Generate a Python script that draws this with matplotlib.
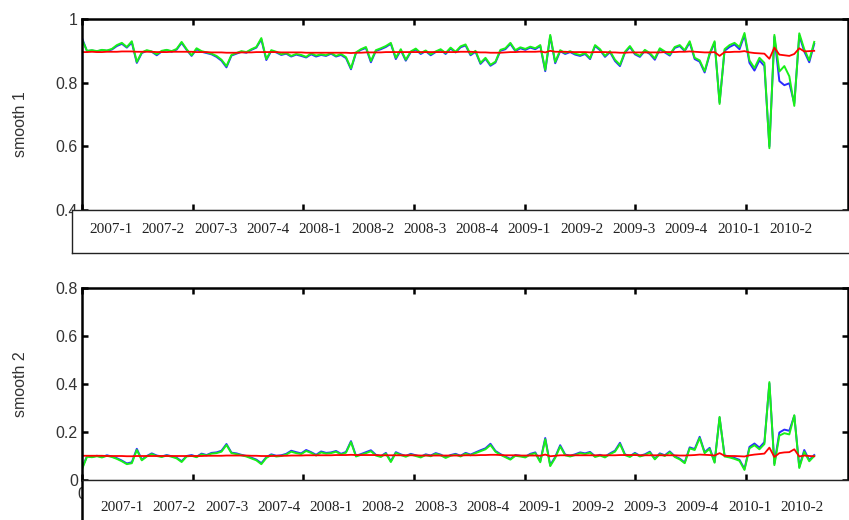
import numpy as np
import matplotlib
matplotlib.use("Agg")
import matplotlib.pyplot as plt
from matplotlib.transforms import blended_transform_factory

plt.rcParams["font.family"] = "Liberation Sans"

# quarter labels under each panel
quarters = ["2007-1", "2007-2", "2007-3", "2007-4", "2008-1", "2008-2", "2008-3",
            "2008-4", "2009-1", "2009-2", "2009-3", "2009-4", "2010-1", "2010-2"]

# smooth 1 (top panel)
green1 = [
    0.935, 0.900, 0.902, 0.899, 0.903, 0.901, 0.906, 0.918, 0.925, 0.912, 0.930, 0.865, 0.895, 0.902, 0.898, 0.889, 0.900, 0.903, 0.899, 0.906,
    0.928, 0.905, 0.886, 0.908, 0.899, 0.895, 0.891, 0.884, 0.872, 0.852, 0.887, 0.893, 0.899, 0.896, 0.905, 0.912, 0.940, 0.874, 0.902, 0.897,
    0.889, 0.893, 0.884, 0.890, 0.887, 0.881, 0.892, 0.885, 0.889, 0.886, 0.893, 0.884, 0.890, 0.880, 0.845, 0.895, 0.905, 0.912, 0.868, 0.902,
    0.908, 0.915, 0.925, 0.878, 0.905, 0.872, 0.898, 0.907, 0.893, 0.901, 0.889, 0.898, 0.905, 0.893, 0.910, 0.897, 0.914, 0.920, 0.889, 0.900,
    0.862, 0.878, 0.856, 0.866, 0.903, 0.908, 0.925, 0.902, 0.911, 0.906, 0.913, 0.908, 0.918, 0.840, 0.950, 0.865, 0.902, 0.893, 0.899, 0.891,
    0.887, 0.893, 0.877, 0.918, 0.905, 0.884, 0.899, 0.872, 0.856, 0.897, 0.915, 0.892, 0.884, 0.903, 0.893, 0.876, 0.908, 0.898, 0.888, 0.912,
    0.918, 0.902, 0.930, 0.878, 0.870, 0.836, 0.892, 0.930, 0.733, 0.905, 0.918, 0.925, 0.912, 0.956, 0.870, 0.846, 0.878, 0.862, 0.594, 0.950,
    0.835, 0.852, 0.820, 0.727, 0.955, 0.905, 0.870, 0.928]
blue1 = [
    0.940, 0.899, 0.901, 0.898, 0.902, 0.900, 0.904, 0.915, 0.922, 0.910, 0.926, 0.862, 0.893, 0.900, 0.897, 0.886, 0.898, 0.902, 0.897, 0.904,
    0.925, 0.903, 0.884, 0.905, 0.897, 0.893, 0.889, 0.881, 0.869, 0.848, 0.885, 0.891, 0.897, 0.894, 0.903, 0.910, 0.936, 0.871, 0.900, 0.895,
    0.887, 0.891, 0.882, 0.888, 0.884, 0.879, 0.889, 0.882, 0.887, 0.884, 0.891, 0.882, 0.887, 0.877, 0.842, 0.893, 0.903, 0.909, 0.864, 0.900,
    0.905, 0.912, 0.922, 0.874, 0.902, 0.869, 0.896, 0.904, 0.890, 0.899, 0.886, 0.896, 0.903, 0.890, 0.907, 0.895, 0.911, 0.917, 0.886, 0.897,
    0.859, 0.875, 0.853, 0.863, 0.900, 0.905, 0.922, 0.899, 0.908, 0.903, 0.910, 0.905, 0.915, 0.836, 0.946, 0.861, 0.899, 0.890, 0.896, 0.888,
    0.884, 0.890, 0.874, 0.915, 0.902, 0.881, 0.896, 0.868, 0.852, 0.894, 0.912, 0.889, 0.881, 0.900, 0.890, 0.872, 0.905, 0.895, 0.885, 0.909,
    0.915, 0.899, 0.926, 0.874, 0.866, 0.832, 0.888, 0.926, 0.738, 0.900, 0.912, 0.920, 0.905, 0.950, 0.862, 0.838, 0.870, 0.852, 0.600, 0.944,
    0.805, 0.792, 0.798, 0.735, 0.948, 0.898, 0.864, 0.922]
red1 = [
    0.896, 0.896, 0.897, 0.896, 0.896, 0.897, 0.897, 0.897, 0.898, 0.898, 0.898, 0.897, 0.897, 0.897, 0.897, 0.896, 0.896, 0.896, 0.897, 0.897,
    0.897, 0.897, 0.897, 0.896, 0.896, 0.896, 0.895, 0.895, 0.895, 0.894, 0.894, 0.894, 0.895, 0.895, 0.895, 0.896, 0.896, 0.896, 0.896, 0.896,
    0.895, 0.895, 0.895, 0.895, 0.895, 0.894, 0.894, 0.894, 0.894, 0.894, 0.894, 0.894, 0.894, 0.894, 0.893, 0.894, 0.894, 0.895, 0.895, 0.895,
    0.895, 0.896, 0.896, 0.896, 0.896, 0.896, 0.896, 0.896, 0.896, 0.896, 0.896, 0.896, 0.896, 0.896, 0.896, 0.896, 0.897, 0.897, 0.897, 0.896,
    0.895, 0.895, 0.894, 0.894, 0.894, 0.895, 0.896, 0.896, 0.897, 0.897, 0.897, 0.897, 0.898, 0.895, 0.900, 0.897, 0.897, 0.897, 0.896, 0.896,
    0.896, 0.896, 0.895, 0.896, 0.896, 0.896, 0.895, 0.895, 0.894, 0.894, 0.895, 0.895, 0.895, 0.895, 0.895, 0.895, 0.895, 0.896, 0.896, 0.896,
    0.897, 0.897, 0.898, 0.897, 0.896, 0.895, 0.895, 0.896, 0.884, 0.896, 0.896, 0.897, 0.897, 0.899, 0.895, 0.893, 0.892, 0.891, 0.875, 0.910,
    0.888, 0.886, 0.884, 0.890, 0.908, 0.898, 0.899, 0.900]

# smooth 2 (bottom panel)
green2 = [
    0.045, 0.097, 0.095, 0.099, 0.094, 0.101, 0.096, 0.088, 0.078, 0.066, 0.070, 0.125, 0.082, 0.098, 0.108, 0.100, 0.096, 0.102, 0.097, 0.090,
    0.075, 0.098, 0.101, 0.095, 0.107, 0.102, 0.110, 0.112, 0.118, 0.146, 0.112, 0.108, 0.103, 0.098, 0.090, 0.082, 0.066, 0.092, 0.104, 0.098,
    0.100, 0.106, 0.118, 0.112, 0.108, 0.121, 0.113, 0.102, 0.115, 0.110, 0.112, 0.118, 0.106, 0.114, 0.158, 0.098, 0.105, 0.112, 0.120, 0.102,
    0.096, 0.110, 0.075, 0.113, 0.104, 0.097, 0.106, 0.100, 0.094, 0.104, 0.099, 0.109, 0.103, 0.092, 0.101, 0.106, 0.098, 0.110, 0.103, 0.112,
    0.120, 0.128, 0.146, 0.118, 0.105, 0.095, 0.085, 0.101, 0.098, 0.094, 0.106, 0.112, 0.074, 0.170, 0.058, 0.092, 0.140, 0.103, 0.098, 0.104,
    0.112, 0.108, 0.114, 0.096, 0.102, 0.094, 0.108, 0.118, 0.150, 0.104, 0.096, 0.110, 0.098, 0.104, 0.115, 0.086, 0.108, 0.100, 0.116, 0.096,
    0.086, 0.070, 0.132, 0.125, 0.175, 0.112, 0.130, 0.072, 0.263, 0.098, 0.094, 0.088, 0.080, 0.042, 0.132, 0.145, 0.128, 0.150, 0.408, 0.062,
    0.185, 0.195, 0.190, 0.270, 0.050, 0.118, 0.078, 0.100]
blue2 = [
    0.050, 0.099, 0.097, 0.101, 0.096, 0.103, 0.098, 0.091, 0.081, 0.069, 0.074, 0.130, 0.085, 0.100, 0.111, 0.102, 0.098, 0.104, 0.099, 0.093,
    0.078, 0.100, 0.104, 0.097, 0.110, 0.104, 0.113, 0.115, 0.122, 0.150, 0.114, 0.111, 0.105, 0.100, 0.093, 0.085, 0.070, 0.095, 0.107, 0.101,
    0.103, 0.109, 0.122, 0.116, 0.111, 0.125, 0.116, 0.105, 0.119, 0.113, 0.115, 0.121, 0.109, 0.117, 0.162, 0.101, 0.108, 0.116, 0.124, 0.105,
    0.099, 0.113, 0.078, 0.116, 0.107, 0.100, 0.109, 0.103, 0.097, 0.107, 0.102, 0.112, 0.106, 0.095, 0.104, 0.109, 0.101, 0.113, 0.106, 0.115,
    0.124, 0.132, 0.151, 0.121, 0.108, 0.098, 0.088, 0.104, 0.101, 0.097, 0.109, 0.115, 0.078, 0.175, 0.062, 0.096, 0.145, 0.106, 0.101, 0.107,
    0.115, 0.111, 0.117, 0.099, 0.105, 0.097, 0.111, 0.122, 0.155, 0.107, 0.099, 0.113, 0.101, 0.107, 0.118, 0.089, 0.111, 0.103, 0.119, 0.099,
    0.089, 0.073, 0.136, 0.129, 0.180, 0.116, 0.134, 0.075, 0.260, 0.102, 0.098, 0.092, 0.084, 0.046, 0.138, 0.152, 0.135, 0.158, 0.402, 0.068,
    0.198, 0.210, 0.205, 0.268, 0.055, 0.125, 0.083, 0.104]
red2 = [
    0.101, 0.101, 0.101, 0.101, 0.101, 0.100, 0.100, 0.100, 0.100, 0.099, 0.099, 0.100, 0.100, 0.100, 0.100, 0.100, 0.100, 0.100, 0.100, 0.100,
    0.100, 0.100, 0.100, 0.100, 0.100, 0.101, 0.101, 0.101, 0.101, 0.102, 0.102, 0.102, 0.102, 0.102, 0.101, 0.101, 0.100, 0.100, 0.100, 0.101,
    0.101, 0.101, 0.102, 0.102, 0.102, 0.103, 0.103, 0.103, 0.103, 0.103, 0.103, 0.104, 0.104, 0.104, 0.105, 0.104, 0.104, 0.104, 0.104, 0.104,
    0.103, 0.103, 0.103, 0.103, 0.103, 0.103, 0.103, 0.103, 0.102, 0.102, 0.102, 0.102, 0.102, 0.102, 0.102, 0.102, 0.102, 0.103, 0.103, 0.103,
    0.104, 0.104, 0.105, 0.105, 0.104, 0.103, 0.103, 0.103, 0.102, 0.102, 0.102, 0.102, 0.101, 0.106, 0.099, 0.101, 0.103, 0.103, 0.103, 0.103,
    0.103, 0.103, 0.103, 0.103, 0.103, 0.103, 0.103, 0.103, 0.104, 0.104, 0.104, 0.104, 0.103, 0.103, 0.103, 0.103, 0.103, 0.103, 0.103, 0.103,
    0.102, 0.102, 0.103, 0.104, 0.106, 0.105, 0.104, 0.102, 0.112, 0.101, 0.100, 0.100, 0.099, 0.098, 0.103, 0.106, 0.108, 0.110, 0.135, 0.096,
    0.112, 0.115, 0.116, 0.128, 0.098, 0.102, 0.100, 0.099]

step = 4.5
x = np.arange(len(green1)) * step

fig = plt.figure(figsize=(8.49, 5.2), dpi=100)


def panel(rect, box_rect, blue, green, red, ylim, yticks, ylab, lab_y, lab_start, bottom_panel):
    ax = fig.add_axes(rect)
    ax.plot(x, blue, color="#2b2bff", lw=1.4)
    ax.plot(x, green, color="#19f019", lw=1.4)
    ax.plot(x, red, color="#ff0000", lw=1.3)
    ax.set_xlim(0, 692)
    ax.set_ylim(*ylim)
    xt = np.arange(0, 700, 100)
    ax.set_xticks(xt)
    # only the "0" peeks out from under the label box in the lower panel
    ax.set_xticklabels(["0" if (bottom_panel and t == 0) else "" for t in xt])
    ax.set_yticks(yticks)
    ax.set_yticklabels([("%g" % t) for t in yticks])
    ax.tick_params(direction="in", length=4, width=1.8, top=True, right=True,
                   labelsize=11.5, labelcolor="#333333", pad=3)
    ax.tick_params(axis="x", pad=5)
    for s in ["left", "top", "right"]:
        ax.spines[s].set_linewidth(1.8)
    ax.set_ylabel(ylab, fontsize=11.5, color="#333333")
    ax.yaxis.set_label_coords(-0.07, lab_y)

    box = fig.add_axes(box_rect)
    box.set_xticks([])
    box.set_yticks([])
    for s in box.spines.values():
        s.set_linewidth(1.0)
        s.set_color("#222222")
    if bottom_panel:
        box.spines["left"].set_linewidth(1.8)
        box.spines["left"].set_color("black")
    trans = blended_transform_factory(ax.transData, box.transAxes)
    for k, q in enumerate(quarters):
        box.text(lab_start + k * 47.25, 0.5 if bottom_panel else 0.55, q,
                 transform=trans, ha="center", va="center", fontsize=11,
                 family="Liberation Serif", color="#222222")
    return ax


panel([0.0966, 0.5962, 0.9022, 0.3673], [0.0848, 0.5135, 0.93, 0.0827],
      blue1, green1, red1, (0.4, 1.0), [0.4, 0.6, 0.8, 1.0], "smooth 1", 0.45, 26.2, False)
panel([0.0966, 0.0769, 0.9022, 0.3693], [0.0966, -0.03, 0.92, 0.1069],
      blue2, green2, red2, (0.0, 0.8), [0.0, 0.2, 0.4, 0.6, 0.8], "smooth 2", 0.5, 36.1, True)

fig.savefig("out.png", dpi=100)
